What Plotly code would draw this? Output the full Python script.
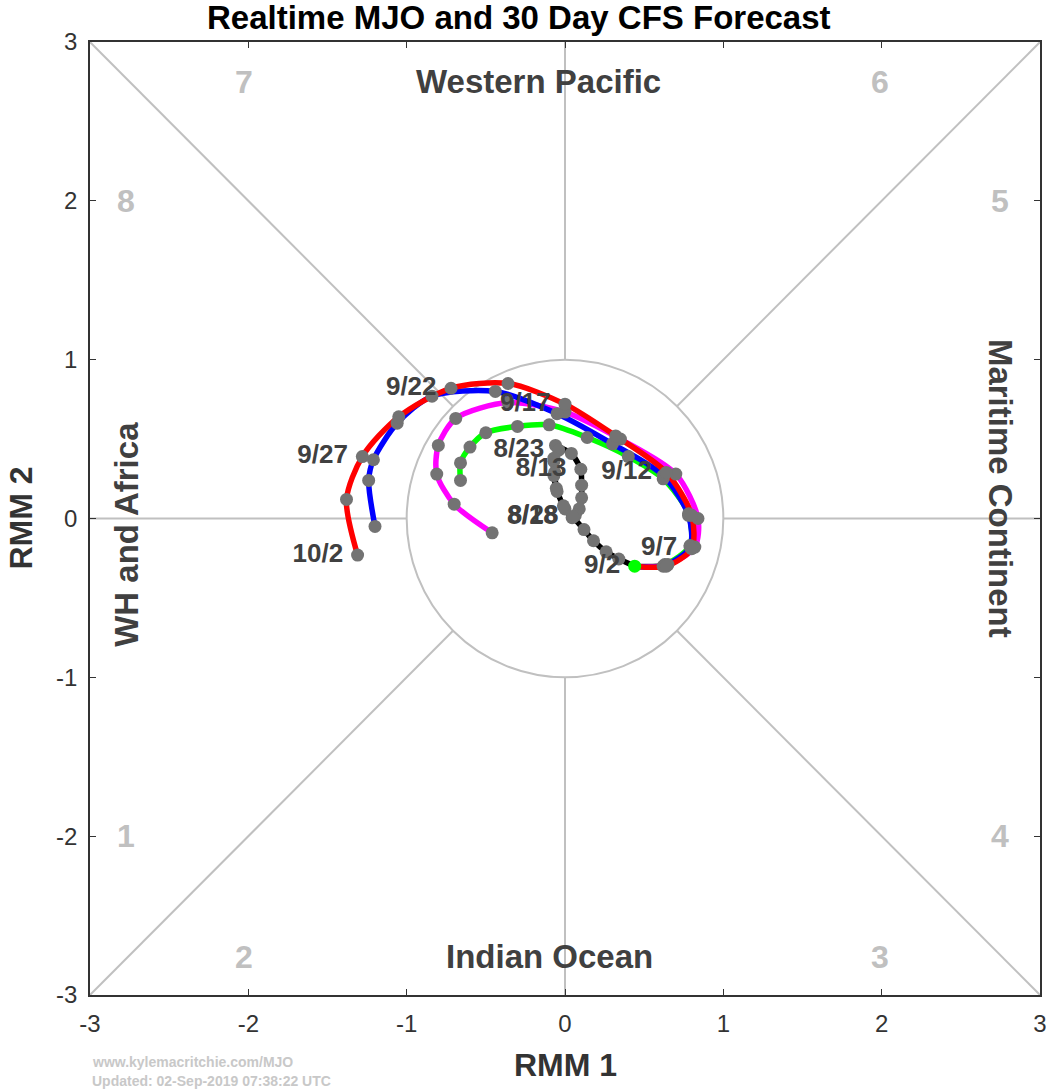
import plotly.graph_objects as go

# observed MJO (RMM1, RMM2), daily 8/11 - 9/2
obs_rmm1 = [-0.06, 0.04, 0.10, 0.105, 0.105, 0.09, 0.065, 0.045, 0.0, -0.05, -0.07, -0.07,
            -0.04, -0.07, -0.065, -0.055, -0.01, 0.05, 0.12, 0.18, 0.26, 0.34, 0.44]
obs_rmm2 = [0.46, 0.41, 0.31, 0.21, 0.13, 0.06, 0.02, 0.005, 0.06, 0.17, 0.27, 0.36,
            0.43, 0.38, 0.29, 0.19, 0.08, 0.01, -0.07, -0.14, -0.21, -0.255, -0.30]
obs_labels = ['', '', '8/13', '', '', '', '', '8/18', '', '', '', '',
              '8/23', '', '', '', '', '8/28', '', '', '', '', '9/2']

# CFS ensemble forecasts, 9/2 - 10/2 (every 2.5 days)
fcst_labels = ['', '', '9/7', '', '9/12', '', '9/17', '', '9/22', '', '9/27', '', '10/2']

red_rmm1 = [0.44, 0.64, 0.80, 0.80, 0.64, 0.32, 0.0, -0.36, -0.72, -1.05, -1.28, -1.38, -1.31]
red_rmm2 = [-0.30, -0.30, -0.19, 0.02, 0.29, 0.52, 0.72, 0.85, 0.82, 0.64, 0.39, 0.12, -0.23]

blue_rmm1 = [0.44, 0.62, 0.79, 0.78, 0.62, 0.30, -0.05, -0.44, -0.84, -1.06, -1.21, -1.24, -1.20]
blue_rmm2 = [-0.30, -0.30, -0.18, 0.02, 0.27, 0.47, 0.66, 0.80, 0.77, 0.60, 0.37, 0.24, -0.05]

mag_rmm1 = [0.44, 0.65, 0.82, 0.84, 0.70, 0.35, 0.0, -0.36, -0.69, -0.80, -0.81, -0.70, -0.46]
mag_rmm2 = [-0.30, -0.29, -0.18, 0.0, 0.28, 0.50, 0.67, 0.73, 0.63, 0.46, 0.28, 0.09, -0.09]

green_rmm1 = [0.44, 0.63, 0.79, 0.78, 0.62, 0.40, 0.14, -0.10, -0.30, -0.50, -0.60, -0.66, -0.66]
green_rmm2 = [-0.30, -0.29, -0.17, 0.03, 0.25, 0.39, 0.51, 0.59, 0.58, 0.54, 0.45, 0.35, 0.24]

phase_nums = ['1', '2', '3', '4', '5', '6', '7', '8']
phase_x = [-2.77, -2.03, 1.99, 2.75, 2.75, 1.99, -2.03, -2.77]
phase_y = [-2.0, -2.76, -2.76, -2.0, 2.0, 2.75, 2.75, 2.0]

tick_vals = [-3, -2, -1, 0, 1, 2, 3]
tick_text = ['-3', '-2', '-1', '0', '1', '2', '3']

FONT = 'Liberation Sans, Arial, sans-serif'
DOT = '#737373'
TXT = '#404040'
GRID = '#c0c0c0'
GAP = '\u00a0\u00a0'

fig = go.Figure()

members = [
    (green_rmm1, green_rmm2, '#00ff00'),
    (mag_rmm1, mag_rmm2, '#ff00ff'),
    (blue_rmm1, blue_rmm2, '#0000ff'),
    (red_rmm1, red_rmm2, '#ff0000'),
]

# lines first
fig.add_trace(go.Scatter(x=obs_rmm1, y=obs_rmm2, mode='lines',
                         line=dict(color='black', width=5.5, shape='spline', smoothing=0.6)))
for xs, ys, c in members:
    fig.add_trace(go.Scatter(x=xs, y=ys, mode='lines',
                             line=dict(color=c, width=5.5, shape='spline', smoothing=0.8)))

# grey day markers on top of the lines
fig.add_trace(go.Scatter(x=obs_rmm1[:-1], y=obs_rmm2[:-1], mode='markers',
                         marker=dict(color=DOT, size=13)))
for xs, ys, c in members:
    fig.add_trace(go.Scatter(x=xs[1:], y=ys[1:], mode='markers',
                             marker=dict(color=DOT, size=13)))

# start of forecast
fig.add_trace(go.Scatter(x=[obs_rmm1[-1]], y=[obs_rmm2[-1]], mode='markers',
                         marker=dict(color='#00ff00', size=13)))

# date labels
lab_font = dict(family=FONT, size=26, color=TXT, weight='bold')
fig.add_trace(go.Scatter(x=obs_rmm1, y=obs_rmm2, mode='text',
                         text=[t + GAP if t else '' for t in obs_labels],
                         textposition='middle left', textfont=lab_font))
fig.add_trace(go.Scatter(x=red_rmm1, y=red_rmm2, mode='text',
                         text=[t + GAP if t else '' for t in fcst_labels],
                         textposition='middle left', textfont=lab_font))

# phase diagram background
shapes = [dict(type='circle', xref='x', yref='y', x0=-1, y0=-1, x1=1, y1=1,
               line=dict(color=GRID, width=2), layer='below')]
r = 0.7071
segs = [(-3, 3, -r, r), (3, 3, r, r), (-3, -3, -r, -r), (3, -3, r, -r),
        (0, 1, 0, 3), (0, -1, 0, -3), (1, 0, 3, 0), (-1, 0, -3, 0)]
for x0, y0, x1, y1 in segs:
    shapes.append(dict(type='line', xref='x', yref='y', x0=x0, y0=y0, x1=x1, y1=y1,
                       line=dict(color=GRID, width=2), layer='below'))

ann = []
for t, px, py in zip(phase_nums, phase_x, phase_y):
    ann.append(dict(x=px, y=py, text='<b>%s</b>' % t, showarrow=False,
                    font=dict(family=FONT, size=32, color=GRID)))
reg_font = dict(family=FONT, size=33, color=TXT)
ann += [
    dict(x=-0.17, y=2.75, text='<b>Western Pacific</b>', showarrow=False, font=reg_font),
    dict(x=-0.1, y=-2.76, text='<b>Indian Ocean</b>', showarrow=False, font=reg_font),
    dict(x=-2.77, y=-0.1, text='<b>WH and Africa</b>', showarrow=False, font=reg_font, textangle=-90),
    dict(x=2.75, y=0.19, text='<b>Maritime Continent</b>', showarrow=False, font=reg_font, textangle=90),
    dict(xref='paper', yref='paper', x=0.452, y=1, yshift=25, yanchor='middle',
         text='<b>Realtime MJO and 30 Day CFS Forecast</b>', showarrow=False,
         font=dict(family=FONT, size=33, color='black')),
    dict(xref='paper', yref='paper', x=0.5, y=0, yshift=-70, yanchor='middle',
         text='<b>RMM 1</b>', showarrow=False, font=dict(family=FONT, size=32, color='#333333')),
    dict(xref='paper', yref='paper', x=0, xshift=-70, y=0.5, xanchor='center',
         text='<b>RMM 2</b>', showarrow=False, textangle=-90,
         font=dict(family=FONT, size=32, color='#333333')),
    dict(xref='paper', yref='paper', x=0, y=0, yshift=-67, xanchor='left', yanchor='middle',
         align='left', text='<b>www.kylemacritchie.com/MJO</b>', showarrow=False,
         font=dict(family=FONT, size=14, color='#c8c8c8')),
    dict(xref='paper', yref='paper', x=0, y=0, yshift=-86, xanchor='left', yanchor='middle',
         align='left', text='<b>Updated: 02-Sep-2019 07:38:22 UTC</b>', showarrow=False,
         font=dict(family=FONT, size=14, color='#c8c8c8')),
]

axis = dict(range=[-3, 3], tickvals=tick_vals, ticktext=tick_text,
            ticks='inside', ticklen=6, tickcolor='#333333',
            showline=True, linecolor='#333333', linewidth=1.5, mirror='ticks',
            showgrid=False, zeroline=False, automargin=False, ticklabelstandoff=6,
            ticklabeloverflow='allow',
            tickfont=dict(family=FONT, size=24, color='#333333'))

fig.update_layout(
    width=1046, height=1091,
    margin=dict(l=90, r=6, t=42, b=96),
    plot_bgcolor='white', paper_bgcolor='white',
    showlegend=False,
    xaxis=axis, yaxis=axis,
    shapes=shapes, annotations=ann,
)

fig.write_html("out.html", config={'displayModeBar': False},
               post_script="document.body.style.margin='0px';")
